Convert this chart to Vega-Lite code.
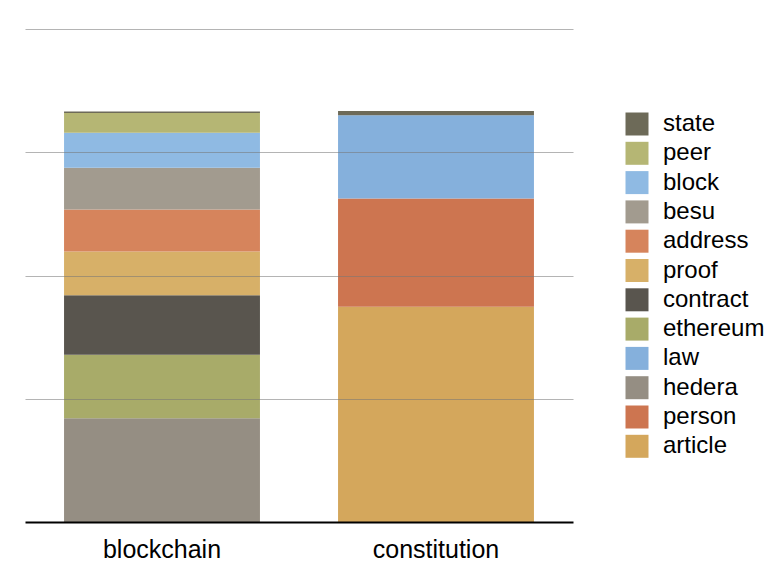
{
  "$schema": "https://vega.github.io/schema/vega-lite/v6.json",
  "width": 548,
  "height": 493,
  "padding": {"left": 25, "top": 29, "right": 5, "bottom": 5},
  "background": "white",
  "config": {
    "view": {"stroke": null},
    "font": "Liberation Sans"
  },
  "data": {
    "values": [
      {"doc": "blockchain", "term": "hedera", "value": 84.1},
      {"doc": "blockchain", "term": "ethereum", "value": 51.6},
      {"doc": "blockchain", "term": "contract", "value": 48.2},
      {"doc": "blockchain", "term": "proof", "value": 35.5},
      {"doc": "blockchain", "term": "address", "value": 34.1},
      {"doc": "blockchain", "term": "besu", "value": 33.9},
      {"doc": "blockchain", "term": "block", "value": 28.5},
      {"doc": "blockchain", "term": "peer", "value": 15.9},
      {"doc": "blockchain", "term": "state", "value": 1.3},
      {"doc": "constitution", "term": "article", "value": 174.6},
      {"doc": "constitution", "term": "person", "value": 87.8},
      {"doc": "constitution", "term": "law", "value": 67.7},
      {"doc": "constitution", "term": "state", "value": 3.3}
    ]
  },
  "transform": [
    {"calculate": "indexof(['article','person','law','hedera','ethereum','contract','proof','address','besu','block','peer','state'], datum.term)", "as": "stackOrder"}
  ],
  "mark": {"type": "bar", "strokeWidth": 0},
  "encoding": {
    "x": {
      "field": "doc",
      "type": "nominal",
      "scale": {"paddingInner": 0.285, "paddingOuter": 0.1425},
      "axis": {
        "title": null,
        "labelAngle": 0,
        "labelFontSize": 25,
        "labelColor": "#000",
        "labelPadding": 15,
        "ticks": false,
        "domainColor": "#000",
        "domainWidth": 2,
        "zindex": 2
      }
    },
    "y": {
      "field": "value",
      "type": "quantitative",
      "stack": "zero",
      "scale": {"domain": [0, 400], "nice": false},
      "axis": {
        "title": null,
        "labels": false,
        "ticks": false,
        "domain": false,
        "values": [100, 200, 300, 400],
        "grid": true,
        "gridColor": "#777",
        "gridOpacity": 0.55,
        "gridWidth": 1,
        "zindex": 1
      }
    },
    "color": {
      "field": "term",
      "type": "nominal",
      "scale": {
        "domain": ["state", "peer", "block", "besu", "address", "proof", "contract", "ethereum", "law", "hedera", "person", "article"],
        "range": ["#6d6a58", "#b5b674", "#8fbae3", "#a29b8f", "#d6845c", "#d7b068", "#59554e", "#a8ab69", "#85b0dc", "#958e83", "#cd7550", "#d4a75c"]
      },
      "legend": {
        "title": null,
        "orient": "none",
        "legendX": 600,
        "legendY": 83,
        "padding": 0,
        "symbolType": "square",
        "symbolSize": 529,
        "symbolStrokeWidth": 0,
        "symbolOpacity": 1,
        "labelFontSize": 24,
        "labelColor": "#000",
        "labelOffset": 14,
        "rowPadding": 5.3
      }
    },
    "order": {"field": "stackOrder", "type": "quantitative", "sort": "ascending"}
  }
}
